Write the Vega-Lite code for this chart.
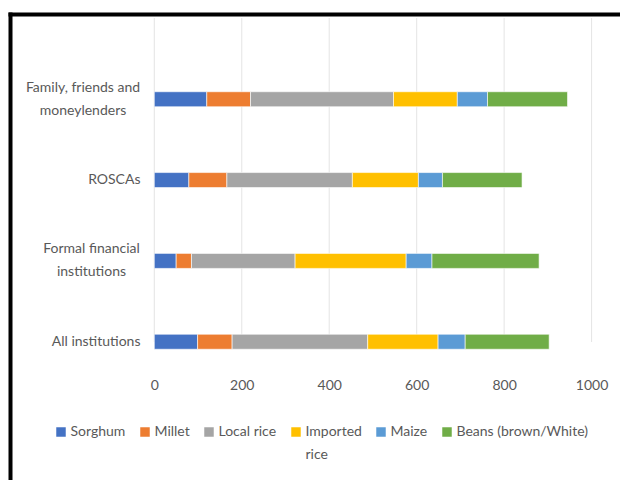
{
  "$schema": "https://vega.github.io/schema/vega-lite/v6.json",
  "description": "Stacked bars of crops by institution",
  "width": 610,
  "height": 466,
  "autosize": {"type": "none"},
  "padding": {"left": 10, "top": 14, "right": 0, "bottom": 0},
  "background": "white",
  "config": {
    "view": {"stroke": null},
    "font": "Lato"
  },
  "datasets": {
    "grid": [
      {"v": 0, "inst": "ROSCAs"},
      {"v": 200, "inst": "ROSCAs"},
      {"v": 400, "inst": "ROSCAs"},
      {"v": 600, "inst": "ROSCAs"},
      {"v": 800, "inst": "ROSCAs"},
      {"v": 1000, "inst": "ROSCAs"}
    ],
    "crops": [
      {"inst": "Family, friends and moneylenders", "crop": "Sorghum", "value": 120},
      {"inst": "Family, friends and moneylenders", "crop": "Millet", "value": 100},
      {"inst": "Family, friends and moneylenders", "crop": "Local rice", "value": 327},
      {"inst": "Family, friends and moneylenders", "crop": "Imported rice", "value": 146},
      {"inst": "Family, friends and moneylenders", "crop": "Maize", "value": 69},
      {"inst": "Family, friends and moneylenders", "crop": "Beans (brown/White)", "value": 183},
      {"inst": "ROSCAs", "crop": "Sorghum", "value": 79},
      {"inst": "ROSCAs", "crop": "Millet", "value": 87},
      {"inst": "ROSCAs", "crop": "Local rice", "value": 287},
      {"inst": "ROSCAs", "crop": "Imported rice", "value": 151},
      {"inst": "ROSCAs", "crop": "Maize", "value": 55},
      {"inst": "ROSCAs", "crop": "Beans (brown/White)", "value": 182},
      {"inst": "Formal financial institutions", "crop": "Sorghum", "value": 50},
      {"inst": "Formal financial institutions", "crop": "Millet", "value": 35},
      {"inst": "Formal financial institutions", "crop": "Local rice", "value": 237},
      {"inst": "Formal financial institutions", "crop": "Imported rice", "value": 254},
      {"inst": "Formal financial institutions", "crop": "Maize", "value": 59},
      {"inst": "Formal financial institutions", "crop": "Beans (brown/White)", "value": 245},
      {"inst": "All institutions", "crop": "Sorghum", "value": 99},
      {"inst": "All institutions", "crop": "Millet", "value": 79},
      {"inst": "All institutions", "crop": "Local rice", "value": 310},
      {"inst": "All institutions", "crop": "Imported rice", "value": 161},
      {"inst": "All institutions", "crop": "Maize", "value": 62},
      {"inst": "All institutions", "crop": "Beans (brown/White)", "value": 192}
    ]
  },
  "layer": [
    {
      "data": {"name": "grid"},
      "mark": {"type": "tick", "size": 324, "thickness": 1, "color": "#d9d9d9"},
      "encoding": {
        "x": {"field": "v", "type": "quantitative"},
        "y": {"field": "inst", "type": "nominal", "bandPosition": 0.823}
      }
    },
    {
      "data": {"name": "crops"},
      "mark": {"type": "bar", "size": 15, "stroke": "white", "strokeWidth": 0.6},
      "encoding": {
        "y": {
          "field": "inst",
          "type": "nominal",
          "title": null,
          "scale": {
            "domain": ["Family, friends and moneylenders", "ROSCAs", "Formal financial institutions", "All institutions"],
            "paddingInner": 0.235,
            "paddingOuter": 1,
            "align": 0.336
          },
          "axis": {
            "orient": "left",
            "domainColor": "#000000",
            "domainWidth": 4,
            "domainCap": "square",
            "ticks": false,
            "tickSize": 0,
            "grid": false,
            "labelFont": "Lato",
            "labelFontSize": 14,
            "labelColor": "#595959",
            "labelLineHeight": 23,
            "labelBaseline": "middle",
            "labelLimit": 300,
            "labelExpr": "datum.value == 'Family, friends and moneylenders' ? ['Family, friends and', 'moneylenders'] : datum.value == 'Formal financial institutions' ? ['Formal financial', 'institutions'] : datum.value",
            "labelAlign": {"condition": {"test": "datum.value == 'Family, friends and moneylenders' || datum.value == 'Formal financial institutions'", "value": "center"}, "value": "right"},
            "labelOffset": {"condition": {"test": "datum.value == 'Family, friends and moneylenders' || datum.value == 'Formal financial institutions'", "value": -11.5}, "value": 0},
            "labelPadding": {"condition": [
              {"test": "datum.value == 'Family, friends and moneylenders'", "value": -72.5},
              {"test": "datum.value == 'Formal financial institutions'", "value": -81}
            ], "value": -130}
          }
        },
        "x": {
          "field": "value",
          "type": "quantitative",
          "stack": "zero",
          "title": null,
          "scale": {"domain": [-330, 1065], "nice": false, "zero": false},
          "axis": {
            "orient": "top",
            "values": [0, 200, 400, 600, 800, 1000],
            "format": "d",
            "domainColor": "#000000",
            "domainWidth": 4,
            "domainCap": "square",
            "ticks": false,
            "tickSize": 0,
            "grid": false,
            "labelFont": "Lato",
            "labelFontSize": 14,
            "labelColor": "#595959",
            "labelBaseline": "middle",
            "labelPadding": -371,
            "labelFlush": false,
            "labelOverlap": false
          }
        },
        "color": {
          "field": "crop",
          "type": "nominal",
          "scale": {
            "domain": ["Sorghum", "Millet", "Local rice", "Imported rice", "Maize", "Beans (brown/White)"],
            "range": ["#4472c4", "#ed7d31", "#a5a5a5", "#ffc000", "#5b9bd5", "#70ad47"]
          },
          "legend": {
            "title": null,
            "orient": "none",
            "direction": "horizontal",
            "columns": 6,
            "legendX": 44,
            "legendY": 411,
            "padding": 0,
            "symbolType": "square",
            "symbolSize": 90,
            "symbolStrokeWidth": 0,
            "labelOffset": 2.5,
            "columnPadding": 12,
            "labelFont": "Lato",
            "labelFontSize": 14,
            "labelColor": "#595959",
            "labelExpr": "datum.label == 'Imported rice' ? ['Imported', 'rice'] : [datum.label, ' ']",
            "encoding": {
              "labels": {
                "lineHeight": {"value": 23}
              }
            }
          }
        },
        "order": {"field": "inst"}
      }
    }
  ]
}
